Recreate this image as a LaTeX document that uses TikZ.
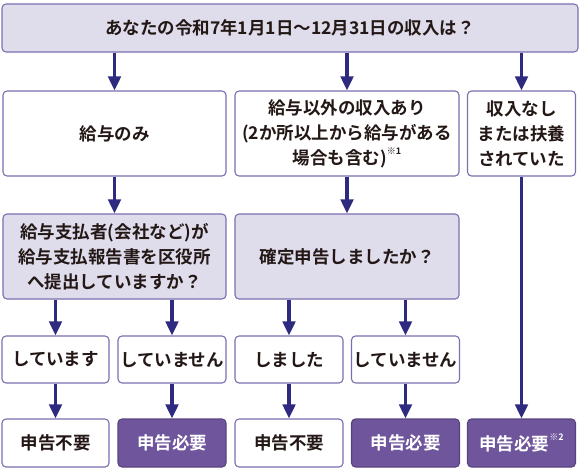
\documentclass[tikz,border=0pt]{standalone}
\usepackage{fontspec}
\newfontfamily\jp{Noto Sans CJK JP Bold}
\usetikzlibrary{arrows.meta}
\definecolor{lav}{HTML}{DFDCEC}
\definecolor{bord}{HTML}{7B6FB0}
\definecolor{purp}{HTML}{6E559C}
\definecolor{navy}{HTML}{2D2A80}
\definecolor{ink}{HTML}{231815}
\tikzset{
  box/.style={draw=bord, line width=1.1pt, rounded corners=4pt, fill=white, text=ink,
    align=center, inner sep=0pt, font=\jp\fontsize{17.5}{25}\selectfont},
  qbox/.style={box, fill=lav},
  rbox/.style={box, fill=purp, draw=purp!80!black, text=white},
  conn/.style={draw=navy, line width=3.2pt, -{Triangle[width=12.5pt,length=14pt]}, color=navy},
}
\newcommand{\notemark}[1]{\raisebox{0.55em}{\fontsize{9}{9}\selectfont ※#1}}
\begin{document}
\begin{tikzpicture}[x=1pt,y=-1pt]
\useasboundingbox (0,0) rectangle (580,471);
\node[qbox, minimum width=576pt, minimum height=48pt] (top) at (290,28) {あなたの令和7年1月1日～12月31日の収入は？};
\node[box, minimum width=223pt, minimum height=85pt] (sal) at (114.5,133.5) {給与のみ};
\node[box, minimum width=224pt, minimum height=85pt] (oth) at (347,133.5) {給与以外の収入あり\\(2か所以上から給与がある\\場合も含む)\notemark{1}};
\node[box, minimum width=108pt, minimum height=85pt] (none) at (521.5,133.5) {収入なし\\または扶養\\されていた};
\node[qbox, minimum width=223pt, minimum height=85pt] (q1) at (114.5,256.5) {給与支払者(会社など)が\\給与支払報告書を区役所\\へ提出していますか？};
\node[qbox, minimum width=224pt, minimum height=85pt] (q2) at (347,256.5) {確定申告しましたか？};
\node[box, minimum width=107pt, minimum height=47pt] (a1) at (55.5,359.5) {しています};
\node[box, minimum width=108pt, minimum height=47pt] (a2) at (172,359.5) {していません};
\node[box, minimum width=108pt, minimum height=47pt] (a3) at (289,359.5) {しました};
\node[box, minimum width=108pt, minimum height=47pt] (a4) at (405.5,359.5) {していません};
\node[box, minimum width=107pt, minimum height=48pt] (r1) at (55.5,443) {申告不要};
\node[rbox, minimum width=108pt, minimum height=48pt] (r2) at (172,443) {申告必要};
\node[box, minimum width=108pt, minimum height=48pt] (r3) at (289,443) {申告不要};
\node[rbox, minimum width=108pt, minimum height=48pt] (r4) at (405.5,443) {申告必要};
\node[rbox, minimum width=108pt, minimum height=48pt] (r5) at (521.5,443) {申告必要\notemark{2}};
\draw[conn] (top.south -| sal.north) -- (sal.north);
\draw[conn] (top.south -| oth.north) -- (oth.north);
\draw[conn] (top.south -| none.north) -- (none.north);
\draw[conn] (sal) -- (q1);
\draw[conn] (oth) -- (q2);
\draw[conn] (q1.south -| a1.north) -- (a1.north);
\draw[conn] (q1.south -| a2.north) -- (a2.north);
\draw[conn] (q2.south -| a3.north) -- (a3.north);
\draw[conn] (q2.south -| a4.north) -- (a4.north);
\draw[conn] (a1) -- (r1);
\draw[conn] (a2) -- (r2);
\draw[conn] (a3) -- (r3);
\draw[conn] (a4) -- (r4);
\draw[conn] (none) -- (r5);
\end{tikzpicture}
\end{document}
